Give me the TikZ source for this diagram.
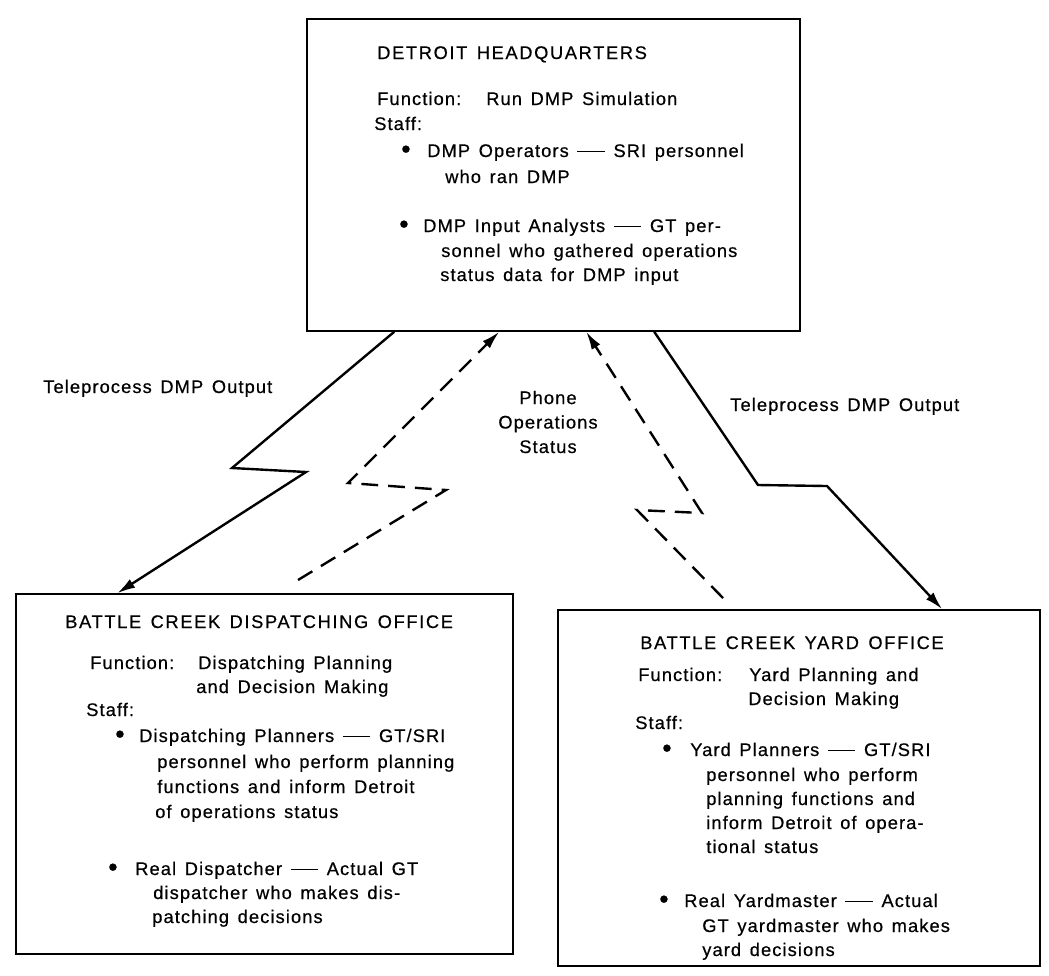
\documentclass[tikz,border=0pt]{standalone}
\usepackage{fontspec}
\setmainfont{Liberation Sans}[LetterSpace=6,WordSpace=1.4,FakeBold=0.5]
\newfontfamily\headfont{Liberation Sans}[LetterSpace=9,WordSpace=1.4,FakeBold=0.5]
\usetikzlibrary{arrows.meta,calc,fit}
% long typed dash between a role and its description
\newcommand\longdash{\rule[0.26em]{1.5em}{0.075em}}

\begin{document}
\begin{tikzpicture}[
  x=0.025cm, y=-0.025cm,
  box/.style={draw, line width=1.1pt, inner sep=0pt},
  txt/.style={anchor=base west, inner sep=0pt, font=\fontsize{13}{17.4}\selectfont},
  head/.style={txt, font=\headfont\fontsize{13}{17.4}\selectfont},
  dot/.style={txt, font=\fontsize{19}{19}\selectfont},
  lbl/.style={inner sep=0pt, font=\fontsize{13}{17.4}\selectfont},
  link/.style={line width=1.7pt, line join=miter},
  dashlink/.style={link, dash pattern=on 0.42cm off 0.25cm},
  tip/.style={-{Latex[length=0.45cm,width=0.25cm]}}
]
\useasboundingbox (0,0) rectangle (1049,975);

% ---- the three offices ----
\node[box, fit={(307,19) (800,331)}] (hq) {};
\node[box, fit={(16,594) (513,954)}] (disp) {};
\node[box, fit={(558,610) (1040,966)}] (yard) {};

% Detroit headquarters
\node[head] (hq-title) at (377,59) {DETROIT HEADQUARTERS};
\node[txt] (hq-fn)    at (377,105) {Function:};
\node[txt] (hq-fnv)   at (486,105) {Run DMP Simulation};
\node[txt] (hq-staff) at (374,130) {Staff:};
\node[dot] (hq-d1)    at (401,158) {•};
\node[txt] (hq-a1)    at (427,157) {DMP Operators \longdash{} SRI personnel};
\node[txt] (hq-a2)    at (445,183) {who ran DMP};
\node[dot] (hq-d2)    at (399,233) {•};
\node[txt] (hq-b1)    at (423,232) {DMP Input Analysts \longdash{} GT per-};
\node[txt] (hq-b2)    at (441,257) {sonnel who gathered operations};
\node[txt] (hq-b3)    at (440,281) {status data for DMP input};

% Battle Creek dispatching office
\node[head] (ds-title) at (65,628) {BATTLE CREEK DISPATCHING OFFICE};
\node[txt] (ds-fn)    at (90,669) {Function:};
\node[txt] (ds-fnv1)  at (198,669) {Dispatching Planning};
\node[txt] (ds-fnv2)  at (196,693) {and Decision Making};
\node[txt] (ds-staff) at (86,716) {Staff:};
\node[dot] (ds-d1)    at (115,743) {•};
\node[txt] (ds-a1)    at (139,742) {Dispatching Planners \longdash{} GT/SRI};
\node[txt] (ds-a2)    at (157,768) {personnel who perform planning};
\node[txt] (ds-a3)    at (157,793) {functions and inform Detroit};
\node[txt] (ds-a4)    at (155,818) {of operations status};
\node[dot] (ds-d2)    at (108,876) {•};
\node[txt] (ds-b1)    at (135,875) {Real Dispatcher \longdash{} Actual GT};
\node[txt] (ds-b2)    at (153,899) {dispatcher who makes dis-};
\node[txt] (ds-b3)    at (152,923) {patching decisions};

% Battle Creek yard office
\node[head] (yd-title) at (640,649) {BATTLE CREEK YARD OFFICE};
\node[txt] (yd-fn)    at (638,681) {Function:};
\node[txt] (yd-fnv1)  at (749,681) {Yard Planning and};
\node[txt] (yd-fnv2)  at (748,705) {Decision Making};
\node[txt] (yd-staff) at (635,729) {Staff:};
\node[dot] (yd-d1)    at (662,757) {•};
\node[txt] (yd-a1)    at (690,756) {Yard Planners \longdash{} GT/SRI};
\node[txt] (yd-a2)    at (706,781) {personnel who perform};
\node[txt] (yd-a3)    at (706,805) {planning functions and};
\node[txt] (yd-a4)    at (706,829) {inform Detroit of opera-};
\node[txt] (yd-a5)    at (706,853) {tional status};
\node[dot] (yd-d2)    at (659,908) {•};
\node[txt] (yd-b1)    at (684,907) {Real Yardmaster \longdash{} Actual};
\node[txt] (yd-b2)    at (702,932) {GT yardmaster who makes};
\node[txt] (yd-b3)    at (702,956) {yard decisions};

% ---- link labels ----
\node[txt] (tp-left)  at (43,393) {Teleprocess DMP Output};
\node[txt] (tp-right) at (730,411) {Teleprocess DMP Output};
\node[lbl, align=center] (phone) at (548,422) {Phone\\Operations\\Status};

% ---- bends of the zig-zag links ----
\coordinate (l1) at (232,468);
\coordinate (l2) at (306,472);
\coordinate (dl0) at (298,580);
\coordinate (dl1) at (446,490);
\coordinate (dl2) at (348,483);
\coordinate (dr0) at (723,598);
\coordinate (dr1) at (637,510);
\coordinate (dr2) at (702,513);
\coordinate (r1) at (758,485);
\coordinate (r2) at (827,486);

% teleprocessed output, Detroit to the two offices
\draw[link, tip] ($(hq.south west)+(88,0)$) -- (l1) -- (l2) -- ($(disp.north west)+(102,0)$);
\draw[link, tip] ($(hq.south west)+(348,0)$) -- (r1) -- (r2) -- ($(yard.north west)+(385,0)$);

% phoned operations status, offices back to Detroit
\draw[dashlink, tip] (dl0) -- (dl1) -- (dl2) -- ($(hq.south west)+(193,0)$);
\draw[dashlink, tip] (dr0) -- (dr1) -- (dr2) -- ($(hq.south west)+(280,0)$);
\end{tikzpicture}
\end{document}
